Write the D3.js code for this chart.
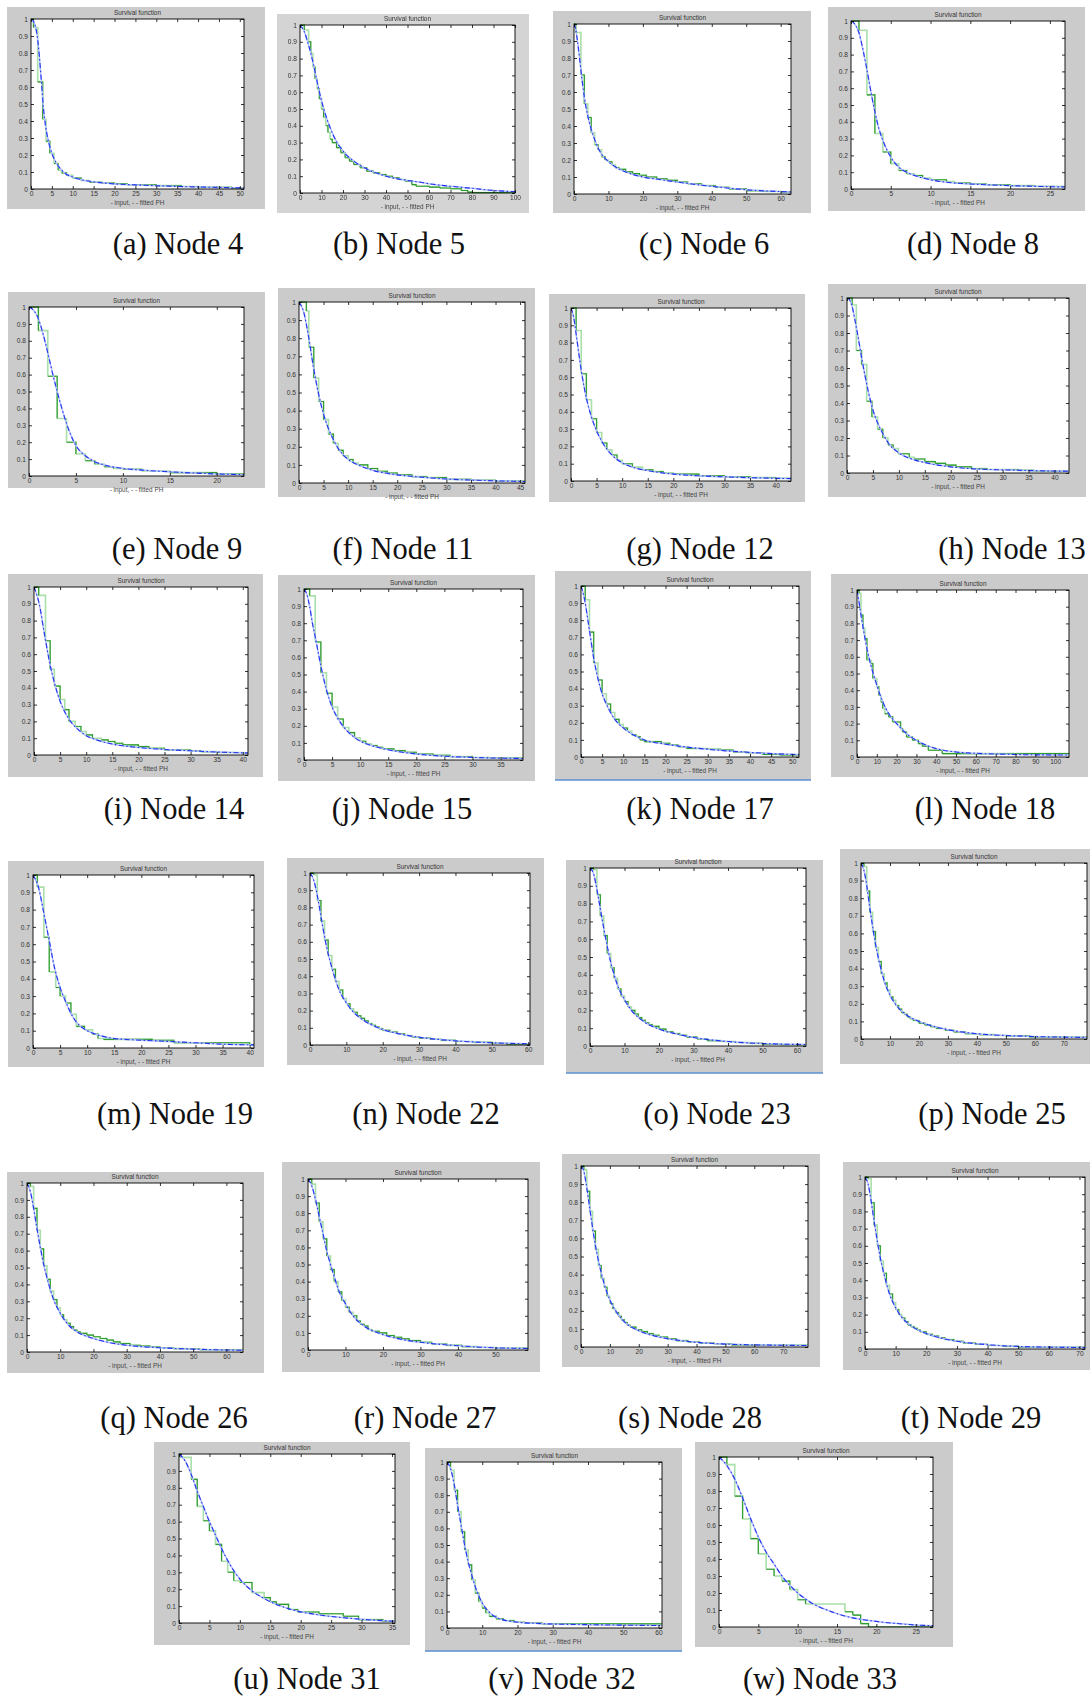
<!DOCTYPE html>
<html><head><meta charset="utf-8">
<script src="https://cdn.jsdelivr.net/npm/d3@7"></script>
<style>body{margin:0;background:#fff}svg{display:block}</style>
</head><body>
<svg id="chart" width="1090" height="1697"></svg>
<script>
// ---------- DATA ----------
const captions = ["(a) Node 4","(b) Node 5","(c) Node 6","(d) Node 8","(e) Node 9","(f) Node 11","(g) Node 12","(h) Node 13","(i) Node 14","(j) Node 15","(k) Node 17","(l) Node 18","(m) Node 19","(n) Node 22","(o) Node 23","(p) Node 25","(q) Node 26","(r) Node 27","(s) Node 28","(t) Node 29","(u) Node 31","(v) Node 32","(w) Node 33"];
const xLimits = [51,100,63,26.9,22.9,46,43,42.8,41,39,51.6,107,40.8,60.5,62.6,78,65,58.7,78.6,71.8,35.5,61,27.2];
const xTickSteps = [5,10,10,5,5,5,5,5,5,5,5,10,5,10,10,10,10,10,10,10,5,10,5];
const yTickValues = [0,0.1,0.2,0.3,0.4,0.5,0.6,0.7,0.8,0.9,1];
const plotTitle = "Survival function";
const legendText = "-  input, - - fitted PH";

// input (empirical) step functions: change times and survival values
const n4T=[0,0.6,1.6,2.8,3.6,4.5,5.5,6.5,7.3,8.5,10,12,14,17,20,23,30,36,40,48];
const n4S=[1,0.95,0.63,0.41,0.28,0.21,0.15,0.11,0.095,0.08,0.065,0.05,0.04,0.035,0.03,0.025,0.02,0.015,0.01,0.005];
const n4FX=[0,0.5,1,1.5,2,2.5,3,3.5,4,5,6,7,8,10,12,15,20,25,30,40,51];
const n4FY=[1,0.99,0.96,0.9,0.78,0.63,0.47,0.37,0.3,0.21,0.155,0.12,0.095,0.07,0.055,0.042,0.03,0.024,0.019,0.012,0.006];

const n5T=[0,2,4,5,6,7,8,9,10,11,12,13,14,15,17,19,21,23,25,28,31,34,37,40,43,46,49,52,54,60,65,70,75,78,80];
const n5S=[1,0.97,0.9,0.83,0.75,0.68,0.62,0.56,0.5,0.45,0.4,0.36,0.32,0.3,0.27,0.24,0.21,0.19,0.17,0.15,0.13,0.12,0.11,0.1,0.09,0.08,0.07,0.05,0.04,0.035,0.03,0.025,0.015,0.005,0.003];
const n5FX=[0,2,4,6,8,10,12,14,16,20,25,30,40,50,55,60,70,80,90,100];
const n5FY=[1,0.96,0.88,0.78,0.66,0.55,0.46,0.39,0.33,0.25,0.19,0.15,0.1,0.075,0.066,0.055,0.04,0.028,0.015,0.008];

const n6T=[0,0.5,2,3,4,5,6,7,8,9,10,11,12,13,15,17,19,21,24,27,30,33,37,41,45,50,55,60];
const n6S=[1,0.95,0.70,0.53,0.45,0.36,0.29,0.26,0.22,0.20,0.19,0.17,0.155,0.145,0.13,0.12,0.11,0.10,0.09,0.08,0.07,0.06,0.05,0.04,0.03,0.02,0.015,0.012];
const n6FX=[0,0.5,1,1.5,2,3,4,5,6,7,8,10,12,15,20,25,30,40,50,63];
const n6FY=[1,0.97,0.9,0.82,0.73,0.57,0.46,0.38,0.32,0.27,0.235,0.19,0.16,0.13,0.10,0.085,0.07,0.045,0.025,0.012];

const n8T=[0,1,2,3,4,5,6,7,8,9,10,12,13,15,17,20,23];
const n8S=[1,0.945,0.56,0.33,0.22,0.15,0.11,0.09,0.08,0.065,0.055,0.045,0.035,0.03,0.025,0.02,0.015];
const n8FX=[0,0.5,1,1.5,2,2.5,3,3.5,4,5,6,7,8,10,12,15,20,26.9];
const n8FY=[1,0.98,0.93,0.83,0.71,0.58,0.46,0.36,0.29,0.19,0.13,0.1,0.08,0.055,0.04,0.03,0.02,0.012];

const n9T=[0,1,2,3,4,5,6,7,8,9,10,12,15,20];
const n9S=[1,0.86,0.59,0.34,0.20,0.13,0.09,0.07,0.055,0.045,0.04,0.03,0.02,0.012];
const n9FX=[0,0.5,1,1.5,2,2.5,3,3.5,4,5,6,7,8,10,12,15,20,22.9];
const n9FY=[1,0.98,0.93,0.84,0.73,0.61,0.5,0.4,0.31,0.18,0.12,0.085,0.065,0.045,0.035,0.025,0.012,0.008];

const n11T=[0,1.5,2,3,4,5,6,7,8,9,10,11,12,14,16,18,20,23,26,30,35,40];
const n11S=[1,0.95,0.75,0.58,0.45,0.35,0.27,0.22,0.18,0.15,0.13,0.11,0.1,0.08,0.065,0.055,0.045,0.035,0.03,0.02,0.015,0.01];
const n11FX=[0,1,2,3,4,5,6,7,8,10,12,15,20,25,30,35,40,46];
const n11FY=[1,0.94,0.8,0.63,0.49,0.38,0.3,0.24,0.19,0.13,0.1,0.07,0.045,0.032,0.022,0.016,0.012,0.008];

const n12T=[0,1,2,3,4,5,6,7,8,9,10,12,14,16,18,20,25,30,35,40];
const n12S=[1,0.87,0.62,0.47,0.36,0.28,0.22,0.18,0.15,0.12,0.1,0.08,0.065,0.055,0.045,0.04,0.03,0.025,0.02,0.015];
const n12FX=[0,0.5,1,2,3,4,5,6,7,8,10,12,15,20,25,30,35,43];
const n12FY=[1,0.95,0.85,0.64,0.48,0.37,0.29,0.23,0.185,0.15,0.105,0.08,0.06,0.04,0.03,0.024,0.019,0.014];

const n13T=[0,1,1.8,2.8,3.8,4.8,5.9,6.9,7.9,8.9,9.9,12,13,15,17,19,21,24,27,33,36,39];
const n13S=[1,0.96,0.70,0.62,0.41,0.32,0.25,0.20,0.16,0.14,0.11,0.09,0.08,0.065,0.055,0.045,0.035,0.025,0.02,0.015,0.012,0.01];
const n13FX=[0,0.5,1,1.5,2,3,4,5,6,7,8,10,12,15,20,25,30,35,42.8];
const n13FY=[1,0.99,0.95,0.88,0.8,0.63,0.48,0.36,0.28,0.22,0.17,0.115,0.085,0.06,0.035,0.023,0.018,0.014,0.01];

const n14T=[0,0.9,2.2,3.1,3.9,5,5.9,6.7,7.9,9,10,11.2,12.9,14.2,15.5,17,20,22,25,30,32,35,40];
const n14S=[1,0.95,0.68,0.51,0.41,0.33,0.27,0.20,0.17,0.14,0.12,0.10,0.09,0.08,0.07,0.06,0.05,0.04,0.03,0.025,0.02,0.015,0.012];
const n14FX=[0,1,2,3,4,5,6,7,8,10,12,15,20,25,30,35,41];
const n14FY=[1,0.9,0.72,0.55,0.42,0.32,0.25,0.2,0.165,0.115,0.09,0.065,0.045,0.033,0.025,0.018,0.012];

const n15T=[0,1,2,3,4,5,6,7,8,9,10,11,12,13,14,16,18,20,23,26,30,33];
const n15S=[1,0.96,0.69,0.51,0.39,0.31,0.24,0.19,0.16,0.13,0.11,0.095,0.085,0.075,0.065,0.055,0.045,0.035,0.028,0.02,0.015,0.012];
const n15FX=[0,0.5,1,1.5,2,3,4,5,6,7,8,10,12,15,20,25,30,39];
const n15FY=[1,0.97,0.9,0.8,0.72,0.55,0.41,0.31,0.245,0.195,0.16,0.11,0.085,0.06,0.035,0.022,0.015,0.009];

const n17T=[0,1,2,3,4,5,6,7,8,9,10,11,12,13,14,15,19,21,23,25,30,33,36,39,43,47];
const n17S=[1,0.92,0.73,0.55,0.45,0.37,0.31,0.26,0.22,0.19,0.17,0.15,0.13,0.12,0.10,0.09,0.08,0.07,0.06,0.05,0.045,0.04,0.03,0.025,0.015,0.012];
const n17FX=[0,0.5,1,2,3,4,5,6,7,8,10,12,15,20,25,30,35,40,45,51.6];
const n17FY=[1,0.96,0.9,0.74,0.58,0.46,0.37,0.31,0.26,0.22,0.17,0.135,0.1,0.075,0.058,0.045,0.035,0.027,0.02,0.014];

const n18T=[0,1,2,3,4,5,7,8,10,11,12,13,14,16,18,22,23,25,28,31,33,36,43];
const n18S=[1,0.98,0.85,0.77,0.71,0.58,0.56,0.47,0.42,0.37,0.33,0.29,0.26,0.24,0.21,0.17,0.15,0.12,0.10,0.08,0.065,0.04,0.02];
const n18FX=[0,1,2,3,5,7,10,13,16,20,25,30,35,40,50,60,70,80,90,107];
const n18FY=[1,0.93,0.85,0.78,0.65,0.55,0.43,0.33,0.26,0.2,0.14,0.1,0.07,0.05,0.03,0.022,0.018,0.015,0.013,0.012];

const n19T=[0,0.8,2,3,4.2,5,6,7,8,9.5,11,12,13,22,26,40];
const n19S=[1,0.93,0.64,0.44,0.35,0.30,0.26,0.195,0.125,0.105,0.08,0.055,0.05,0.045,0.03,0.02];
const n19FX=[0,1,2,3,4,5,6,7,8,10,12,15,20,25,30,35,40.8];
const n19FY=[1,0.93,0.78,0.62,0.46,0.35,0.27,0.2,0.15,0.1,0.075,0.055,0.045,0.038,0.03,0.022,0.018];

const n22T=[0,1,2,3,4,5,6,7,8,9,10,11,12,13,14,15,16,17,18,19,20,22,24,26,28,30,33,36,40,45,50,54];
const n22S=[1,0.99,0.84,0.72,0.61,0.52,0.44,0.37,0.32,0.27,0.24,0.21,0.19,0.17,0.155,0.14,0.125,0.115,0.105,0.095,0.085,0.075,0.065,0.055,0.047,0.04,0.033,0.027,0.02,0.015,0.01,0.005];
const n22FX=[0,1,2,3,4,5,6,7,8,10,12,15,20,25,30,35,40,50,60.5];
const n22FY=[1,0.96,0.87,0.75,0.63,0.53,0.45,0.38,0.32,0.245,0.19,0.14,0.09,0.063,0.045,0.033,0.024,0.013,0.007];

const n23T=[0,1,2,3,4,5,6,7,8,9,10,11,12,13,14,15,16,17,18,20,22,24,26,28,31,34,38,42,46,50,55];
const n23S=[1,0.99,0.85,0.73,0.62,0.52,0.44,0.38,0.32,0.28,0.25,0.22,0.2,0.18,0.16,0.145,0.13,0.12,0.11,0.095,0.08,0.07,0.06,0.05,0.04,0.03,0.025,0.02,0.015,0.01,0.008];
const n23FX=[0,1,2,3,4,5,6,7,8,10,12,15,20,25,30,40,50,62.6];
const n23FY=[1,0.97,0.88,0.77,0.66,0.56,0.47,0.4,0.34,0.26,0.2,0.145,0.095,0.068,0.048,0.025,0.014,0.008];

const n25T=[0,1,2,3,4,5,6,7,8,9,10,11,12,13,14,15,16,17,18,20,22,24,26,29,32,36,41,46,50,58,68];
const n25S=[1,0.98,0.84,0.72,0.61,0.52,0.44,0.37,0.32,0.28,0.24,0.22,0.19,0.17,0.15,0.14,0.125,0.115,0.105,0.09,0.08,0.07,0.06,0.05,0.04,0.03,0.025,0.02,0.018,0.012,0.01];
const n25FX=[0,1,2,3,4,5,6,7,8,10,12,15,20,25,30,40,50,60,78];
const n25FY=[1,0.96,0.87,0.75,0.64,0.54,0.46,0.39,0.33,0.25,0.195,0.145,0.1,0.072,0.053,0.03,0.02,0.014,0.009];

const n26T=[0,1,2,3,4,5,6,7,8,9,10,11,12,13,14,15,16,18,20,22,24,26,28,31,34,37,40,44,48,52,57];
const n26S=[1,0.98,0.85,0.72,0.61,0.51,0.43,0.36,0.31,0.26,0.22,0.19,0.17,0.15,0.13,0.12,0.11,0.1,0.09,0.08,0.07,0.06,0.05,0.04,0.035,0.03,0.025,0.02,0.017,0.014,0.012];
const n26FX=[0,1,2,3,4,5,6,7,8,10,12,15,20,25,30,40,50,65];
const n26FY=[1,0.95,0.85,0.73,0.62,0.52,0.44,0.37,0.31,0.23,0.17,0.12,0.08,0.055,0.04,0.025,0.017,0.01];

const n27T=[0,1,2,3,4,5,6,7,8,9,10,11,12,13,14,15,16,17,19,21,23,25,27,30,33,37,41,45,50];
const n27S=[1,0.97,0.86,0.75,0.65,0.55,0.47,0.40,0.34,0.29,0.25,0.22,0.2,0.17,0.15,0.14,0.12,0.11,0.1,0.085,0.075,0.065,0.055,0.045,0.035,0.027,0.02,0.015,0.01];
const n27FX=[0,1,2,3,4,5,6,7,8,10,12,15,20,25,30,40,50,58.7];
const n27FY=[1,0.96,0.88,0.78,0.68,0.58,0.5,0.43,0.36,0.27,0.2,0.14,0.09,0.062,0.045,0.025,0.013,0.009];

const n28T=[0,1,2,3,4,5,6,7,8,9,10,11,12,13,14,15,16,17,19,21,23,25,27,30,33,37,41,46,52,57];
const n28S=[1,0.98,0.86,0.75,0.64,0.54,0.45,0.38,0.33,0.28,0.24,0.21,0.19,0.17,0.15,0.135,0.12,0.11,0.095,0.085,0.075,0.065,0.055,0.045,0.035,0.028,0.022,0.018,0.012,0.01];
const n28FX=[0,1,2,3,4,5,6,7,8,10,12,15,20,25,30,40,50,60,78.6];
const n28FY=[1,0.97,0.88,0.77,0.66,0.56,0.48,0.41,0.35,0.26,0.2,0.14,0.09,0.063,0.046,0.026,0.016,0.012,0.008];

const n29T=[0,1,2,3,4,5,6,7,8,9,10,11,12,13,14,15,16,17,18,20,22,24,26,29,32,36,40,45,50];
const n29S=[1,0.99,0.85,0.72,0.6,0.51,0.44,0.37,0.32,0.27,0.23,0.2,0.18,0.16,0.14,0.13,0.12,0.11,0.1,0.085,0.075,0.065,0.055,0.045,0.035,0.028,0.02,0.015,0.01];
const n29FX=[0,1,2,3,4,5,6,7,8,10,12,15,20,25,30,40,50,60,71.8];
const n29FY=[1,0.96,0.86,0.74,0.63,0.53,0.45,0.38,0.32,0.24,0.185,0.135,0.09,0.063,0.045,0.025,0.015,0.011,0.008];

const n31T=[0,0.3,2,3,4,5,6,7,8,9,10,12,14,15,16,18,19.5,23,27,29.5,33.5];
const n31S=[1,0.98,0.85,0.69,0.605,0.545,0.465,0.365,0.30,0.25,0.24,0.18,0.15,0.125,0.11,0.08,0.065,0.055,0.04,0.02,0.01];
const n31FX=[0,1,2,3,4,5,6,7,8,9,10,12,14,16,18,20,23,26,30,35.5];
const n31FY=[1,0.96,0.88,0.78,0.69,0.6,0.52,0.44,0.37,0.31,0.26,0.19,0.145,0.11,0.085,0.066,0.048,0.035,0.022,0.01];

const n32T=[0,1,2,3,4,5,6,7,8,9,10,11,12,14,16,19,22,27];
const n32S=[1,0.95,0.83,0.7,0.58,0.47,0.38,0.29,0.21,0.16,0.12,0.09,0.07,0.055,0.045,0.035,0.03,0.025];
const n32FX=[0,1,2,3,4,5,6,7,8,10,12,15,20,25,30,40,50,61];
const n32FY=[1,0.96,0.87,0.74,0.62,0.5,0.4,0.32,0.25,0.15,0.095,0.055,0.035,0.028,0.024,0.02,0.017,0.015];

const n33T=[0,1,2,3,4,5,6,7,8,9,10,11,16,17,18,19];
const n33S=[1,0.955,0.77,0.635,0.52,0.43,0.34,0.30,0.27,0.22,0.16,0.135,0.09,0.07,0.02,0];
const n33FX=[0,1,2,3,4,5,6,7,8,9,10,11,12,14,16,18,20,22,25,27.2];
const n33FY=[1,0.95,0.87,0.76,0.64,0.53,0.44,0.37,0.3,0.245,0.2,0.165,0.135,0.095,0.065,0.045,0.033,0.023,0.012,0.008];

const inputTimes=[n4T,n5T,n6T,n8T,n9T,n11T,n12T,n13T,n14T,n15T,n17T,n18T,n19T,n22T,n23T,n25T,n26T,n27T,n28T,n29T,n31T,n32T,n33T];
const inputSurv=[n4S,n5S,n6S,n8S,n9S,n11S,n12S,n13S,n14S,n15S,n17S,n18S,n19S,n22S,n23S,n25S,n26S,n27S,n28S,n29S,n31S,n32S,n33S];
const fitX=[n4FX,n5FX,n6FX,n8FX,n9FX,n11FX,n12FX,n13FX,n14FX,n15FX,n17FX,n18FX,n19FX,n22FX,n23FX,n25FX,n26FX,n27FX,n28FX,n29FX,n31FX,n32FX,n33FX];
const fitY=[n4FY,n5FY,n6FY,n8FY,n9FY,n11FY,n12FY,n13FY,n14FY,n15FY,n17FY,n18FY,n19FY,n22FY,n23FY,n25FY,n26FY,n27FY,n28FY,n29FY,n31FY,n32FY,n33FY];

// ---------- LAYOUT (page geometry of each sub-figure) ----------
const layout = [
 {g:[7,7,258,202],     p:[31,19,213,170],   cap:[178,243]},
 {g:[277,14,252,199],  p:[300,25,215,168],  cap:[399,243], blur:true},
 {g:[553,11,258,202],  p:[574,24,217,170],  cap:[704,243]},
 {g:[828,7,257,204],   p:[851,21,214,168],  cap:[973,243]},
 {g:[8,292,257,196],   p:[29,307,215,169],  cap:[177,548]},
 {g:[278,288,257,209], p:[299,302,226,181], cap:[403,548]},
 {g:[549,294,256,208], p:[571,308,220,173], cap:[700,548]},
 {g:[828,284,258,213], p:[847,298,222,175], cap:[1012,548]},
 {g:[8,574,255,203],   p:[34,587,214,168],  cap:[174,808]},
 {g:[278,575,257,206], p:[304,589,219,171], cap:[402,808]},
 {g:[555,571,256,209], p:[581,586,218,171], cap:[700,808], line:true},
 {g:[831,574,257,203], p:[857,590,212,167], cap:[985,808]},
 {g:[8,861,256,206],   p:[33,875,221,173],  cap:[175,1113]},
 {g:[287,858,257,207], p:[310,873,220,172], cap:[426,1113]},
 {g:[566,860,257,213], p:[590,868,216,178], cap:[717,1113], line:true},
 {g:[840,849,250,215], p:[861,863,226,176], cap:[992,1113]},
 {g:[7,1172,257,201],  p:[27,1183,216,169], cap:[174,1417]},
 {g:[282,1162,258,210],p:[308,1179,220,171],cap:[425,1417]},
 {g:[562,1154,258,213],p:[581,1166,227,181],cap:[690,1417]},
 {g:[843,1162,247,208],p:[865,1177,220,172],cap:[971,1417]},
 {g:[154,1442,256,203],p:[179,1454,216,169],cap:[307,1678]},
 {g:[425,1448,257,203],p:[447,1462,215,166],cap:[562,1678], line:true},
 {g:[695,1442,258,205],p:[719,1457,214,170],cap:[820,1678]}
];

// ---------- DRAW ----------
const svg = d3.select("#chart");
const defs = svg.append("defs");
defs.append("filter").attr("id","soft").append("feGaussianBlur").attr("stdDeviation",0.75);
const axisFont = "'Liberation Sans', Arial, sans-serif";
const fmtY = v => String(+v.toFixed(1));

captions.forEach((cap, i) => {
  const L = layout[i];
  const [gx,gy,gw,gh] = L.g, [px,py,pw,ph] = L.p;
  const root = svg.append("g");
  const panel = root.append("g");
  if (L.blur) panel.attr("filter","url(#soft)");

  panel.append("rect").attr("x",gx).attr("y",gy).attr("width",gw).attr("height",gh)
    .attr("fill", L.blur ? "#d4d4d4" : "#cbcbcb");
  panel.append("rect").attr("x",px).attr("y",py).attr("width",pw).attr("height",ph).attr("fill","#fff");

  const x = d3.scaleLinear().domain([0, xLimits[i]]).range([px, px+pw]);
  const y = d3.scaleLinear().domain([0, 1]).range([py+ph, py]);

  const clipId = "clip"+i;
  defs.append("clipPath").attr("id",clipId).append("rect")
    .attr("x",px).attr("y",py-1).attr("width",pw).attr("height",ph+1);
  const plot = panel.append("g").attr("clip-path",`url(#${clipId})`);

  // input step curve (segments alternate dark/light as in the rasterised original)
  const T = inputTimes[i], S = inputSurv[i];
  const segs = T.map((t,k) => {
    const tEnd = k < T.length-1 ? T[k+1] : xLimits[i];
    const pts = [[t, S[k]], [tEnd, S[k]]];
    if (k < T.length-1) pts.push([tEnd, S[k+1]]);
    return {pts, k};
  });
  const lineFn = d3.line().x(d=>x(d[0])).y(d=>y(d[1]));
  plot.selectAll("path.inl").data(segs).join("path")
    .attr("d", d=>lineFn(d.pts)).attr("fill","none")
    .attr("stroke","#a9dfa9").attr("stroke-width",1.6);
  plot.selectAll("path.ind").data(segs.filter(d => d.k % 2 === 0 || d.k > 12)).join("path")
    .attr("d", d=>lineFn(d.pts)).attr("fill","none")
    .attr("stroke","#2f9a2f").attr("stroke-width",1.1);

  // fitted PH curve (dash-dot)
  const fpts = fitX[i].map((v,k)=>[v, fitY[i][k]]);
  const fitLine = d3.line().x(d=>x(d[0])).y(d=>y(d[1])).curve(d3.curveMonotoneX);
  plot.append("path").attr("d",fitLine(fpts)).attr("fill","none")
    .attr("stroke","#b4c0ff").attr("stroke-width",1.5);
  plot.append("path").attr("d",fitLine(fpts)).attr("fill","none")
    .attr("stroke","#2233ee").attr("stroke-width",1.1).attr("stroke-dasharray","5,2.5,1.5,2.5");

  // axes with inward ticks on all four sides
  const xt = d3.range(0, xLimits[i]+1e-9, xTickSteps[i]);
  const styleAxis = sel => {
    sel.select(".domain").remove();
    sel.selectAll("line").attr("stroke","#000").attr("stroke-width",0.8);
    sel.selectAll("text").attr("fill","#333").style("font-family",axisFont).style("font-size","6.6px");
  };
  panel.append("g").attr("transform",`translate(0,${py+ph})`)
    .call(d3.axisBottom(x).tickValues(xt).tickSizeInner(-3).tickSizeOuter(0).tickPadding(2).tickFormat(d3.format("d")))
    .call(styleAxis);
  panel.append("g").attr("transform",`translate(0,${py})`)
    .call(d3.axisTop(x).tickValues(xt).tickSizeInner(-3).tickSizeOuter(0).tickFormat(""))
    .call(styleAxis);
  panel.append("g").attr("transform",`translate(${px},0)`)
    .call(d3.axisLeft(y).tickValues(yTickValues).tickSizeInner(-3).tickSizeOuter(0).tickPadding(3).tickFormat(fmtY))
    .call(styleAxis);
  panel.append("g").attr("transform",`translate(${px+pw},0)`)
    .call(d3.axisRight(y).tickValues(yTickValues).tickSizeInner(-3).tickSizeOuter(0).tickFormat(""))
    .call(styleAxis);

  panel.append("rect").attr("x",px).attr("y",py).attr("width",pw).attr("height",ph)
    .attr("fill","none").attr("stroke","#000").attr("stroke-width",0.9);

  panel.append("text").attr("x",px+pw/2).attr("y",py-4).attr("text-anchor","middle")
    .attr("fill","#333").style("font-family",axisFont).style("font-size","6.4px").text(plotTitle);
  panel.append("text").attr("x",px+pw/2).attr("y",py+ph+15.5).attr("text-anchor","middle")
    .attr("fill","#444").style("font-family",axisFont).style("font-size","6.4px").text(legendText);

  if (L.line) {
    root.append("line").attr("x1",gx).attr("x2",gx+gw).attr("y1",gy+gh).attr("y2",gy+gh)
      .attr("stroke","#5b8fd0").attr("stroke-width",1.6);
  }

  root.append("text").attr("x",L.cap[0]).attr("y",L.cap[1]).attr("dy","0.35em")
    .attr("text-anchor","middle").attr("fill","#111")
    .style("font-family","'Liberation Serif', 'Times New Roman', serif").style("font-size","30.5px")
    .text(cap);
});
</script>
</body></html>
